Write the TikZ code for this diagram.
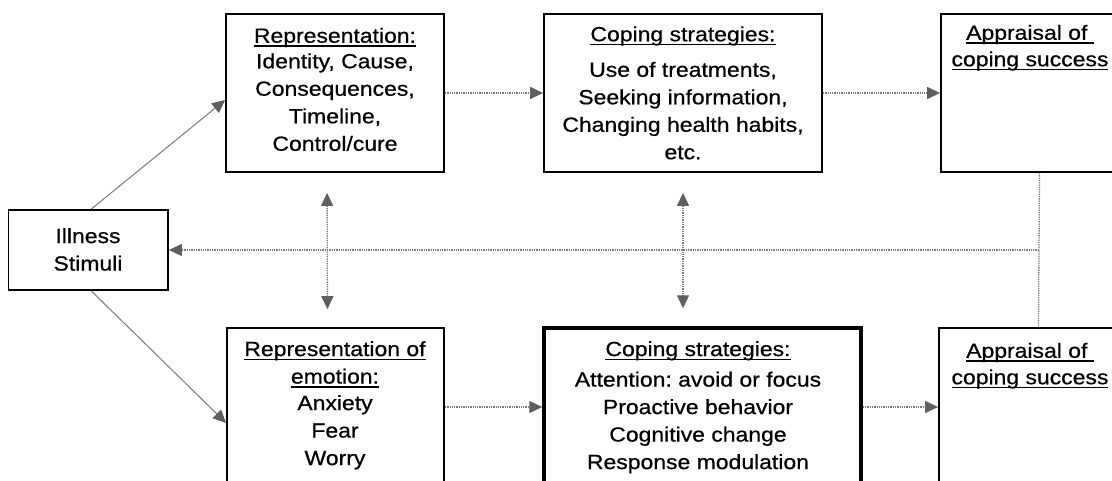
\documentclass[tikz,border=0pt]{standalone}
\usepackage{fontspec}
\setmainfont{Liberation Sans}[FakeStretch=1.12,FakeBold=0.6]
\usetikzlibrary{arrows.meta,calc}
\definecolor{lnc}{HTML}{7A7A7A}
\definecolor{tipc}{HTML}{5F5F5F}
\newcommand\ulin[1]{\setbox0\hbox{#1}\rlap{\rule[-4pt]{\wd0}{1.3pt}}\box0}
\frenchspacing
\begin{document}
\begin{tikzpicture}[x=1pt,y=-1pt,
  box/.style={draw=black, line width=1.8pt, inner sep=0pt},
  thickbox/.style={box, line width=3.5pt},
  txt/.style={anchor=north, inner sep=0pt, align=center, font=\fontsize{20.5}{27.5}\selectfont\frenchspacing},
  dotarrow/.style={draw=lnc, line width=1.3pt, densely dotted, -{Triangle[length=13pt,width=12pt,color=tipc]}},
  dblarrow/.style={draw=lnc, line width=1.3pt, densely dotted, {Triangle[length=13pt,width=12pt,color=tipc]}-{Triangle[length=13pt,width=12pt,color=tipc]}},
  dotline/.style={draw=lnc, line width=1.3pt, densely dotted},
  diag/.style={draw=lnc, line width=1pt, -{Triangle[length=13pt,width=12pt,color=tipc]}}]
\useasboundingbox (0,0) rectangle (1112,480);
\fill[white] (0,0) rectangle (1112,480);
\clip (0,0) rectangle (1112,480);

% boxes
\node[box, minimum width=159.5pt, minimum height=80pt] (ill) at (88.25,250) {};
\node[box, minimum width=218pt, minimum height=158pt] (rep) at (335,93) {};
\node[box, minimum width=278pt, minimum height=158pt] (cop1) at (683,93) {};
\node[box, minimum width=197pt, minimum height=158pt] (appr1) at (1039.5,93) {};
\node[box, minimum width=217pt, minimum height=158pt] (repemo) at (335.5,407) {};
\node[thickbox, minimum width=317pt, minimum height=158pt] (cop2) at (702.5,407) {};
\node[box, minimum width=199pt, minimum height=158pt] (appr2) at (1038.5,407) {};

% texts
\node[txt] (illtxt) at (88,228) {Illness\\ Stimuli};
\node[txt] (reptxt) at (335,27.7) {\ulin{Representation:}\\[-2pt] Identity, Cause,\\ Consequences,\\ Timeline,\\ Control/cure};
\node[txt] (cop1txt) at (683,26.2) {\ulin{Coping strategies:}\\[8pt] Use of treatments,\\ Seeking information,\\ Changing health habits,\\ etc.};
\node[txt] (appr1txt) at (1030,24.7) {\ulin{Appraisal of~}\\[-1pt] \ulin{coping success}};
\node[txt] (repemotxt) at (335,341) {\ulin{Representation of}\\ \ulin{emotion:}\\[-1pt] Anxiety\\ Fear\\ Worry};
\node[txt] (cop2txt) at (698,341) {\ulin{Coping strategies:}\\[3pt] Attention: avoid or focus\\ Proactive behavior\\ Cognitive change\\ Response modulation};
\node[txt] (appr2txt) at (1030,342.7) {\ulin{Appraisal of~}\\[-1pt] \ulin{coping success}};

% connectors
\draw[diag] ([xshift=3pt]ill.north) -- ([yshift=-7pt]rep.west);
\draw[diag] ([xshift=3pt]ill.south) -- ([yshift=-16pt]repemo.west);
\draw[dotarrow] (rep) -- (cop1);
\draw[dotarrow] (cop1) -- (appr1);
\draw[dotarrow] (repemo.east |- cop2.west) -- (cop2.west);
\draw[dotarrow] (cop2) -- (appr2);
\draw[dblarrow, shorten <=20pt, shorten >=18pt] ([xshift=-8pt]rep.south) -- ([xshift=-8pt]repemo.north);
\draw[dblarrow, shorten <=20pt, shorten >=18pt] (cop1.south) -- (cop1.south |- cop2.north);
\draw[dotline] (appr1.south) -- (appr2.north);
\coordinate (fb) at ($(appr1.south)!0.5!(appr2.north)$);
\draw[dotarrow] (fb) -- (ill);
\end{tikzpicture}
\end{document}
